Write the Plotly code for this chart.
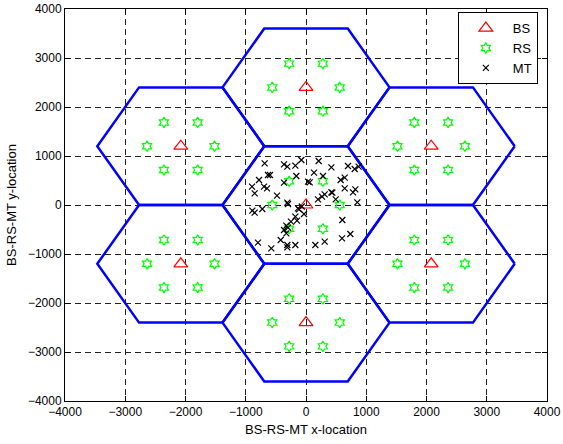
import plotly.graph_objects as go
import math

# Base stations (cell centres)
bs_x = [0, 0, 0, 2078, -2078, 2078, -2078]
bs_y = [0, 2400, -2400, 1200, 1200, -1200, -1200]
cell_radius = 1386

# Relay station offsets relative to each BS
rs_dx = [560, 280, -280, -560, -280, 280]
rs_dy = [0, 485, 485, 0, -485, -485]

# Mobile terminals (centre cell)
mt_x = [-686, -365, -310, -177, -77, 210, 421, 697, 808, 874,
        -631, -598, -780, -161, 133, 282, -896, -697, -647, -365,
        61, 575, 642, -852, -481, 642, 780, 819, 199, 266,
        310, 421, 493, 852, -310, -299, -891, -852, -725, -133,
        -116, -33, -177, -149, -327, -299, -365, -327, 603, -797,
        -420, -576, -310, -310, -177, 155, 310, 598, 736, -70,
        -250, 33, 437]
mt_y = [851, 830, 782, 803, 918, 898, 769, 796, 735, 782,
        612, 612, 510, 592, 660, 592, 374, 374, 340, 456,
        463, 510, 558, 238, 190, 340, 258, 320, 116, 170,
        218, 258, 116, 54, 48, 20, -116, -157, -82, -68,
        -88, -184, -238, -320, -422, -463, -510, -578, -306, -769,
        -714, -884, -816, -864, -816, -816, -748, -680, -592, -30,
        -340, 476, 251]

# Hexagon outlines (flat-topped)
hx, hy = [], []
for cx, cy in zip(bs_x, bs_y):
    for k in range(7):
        a = math.radians(60 * k)
        hx.append(cx + cell_radius * math.cos(a))
        hy.append(cy + cell_radius * math.sin(a))
    hx.append(None)
    hy.append(None)

rs_x, rs_y = [], []
for cx, cy in zip(bs_x, bs_y):
    for dx, dy in zip(rs_dx, rs_dy):
        rs_x.append(cx + dx)
        rs_y.append(cy + dy)

fig = go.Figure()
fig.add_trace(go.Scatter(x=hx, y=hy, mode="lines",
                         line=dict(color="#0000ff", width=2.5),
                         showlegend=False, hoverinfo="skip"))
fig.add_trace(go.Scatter(x=bs_x, y=bs_y, mode="markers", name="BS",
                         marker=dict(symbol="triangle-up-open", size=12,
                                     color="#ff0000", line=dict(width=1.2, color="#ff0000"))))
fig.add_trace(go.Scatter(x=rs_x, y=rs_y, mode="markers", name="RS",
                         marker=dict(symbol="hexagram-open", size=8,
                                     color="#00ff00", line=dict(width=1.2, color="#00ff00"))))
fig.add_trace(go.Scatter(x=mt_x, y=mt_y, mode="markers", name="MT",
                         marker=dict(symbol="x-thin-open", size=6,
                                     color="#000000", line=dict(width=1.2, color="#000000"))))

axis_common = dict(
    showline=True, linecolor="black", linewidth=1, mirror="ticks",
    ticks="inside", ticklen=5, tickcolor="black",
    showgrid=True, gridcolor="#222222", gridwidth=1, griddash="6px,4px",
    zeroline=False, dtick=1000, automargin=False,
    tickfont=dict(family="Liberation Sans, Arial", size=12, color="black"),
)

fig.update_layout(
    width=563, height=444,
    margin=dict(l=65, r=16, t=9, b=43, autoexpand=False),
    paper_bgcolor="white", plot_bgcolor="white",
    font=dict(family="Liberation Sans, Arial", size=12, color="black"),
    xaxis=dict(range=[-4000, 4000], tick0=-4000,
               title=dict(text="BS-RS-MT x-location", font=dict(size=13), standoff=6),
               **axis_common),
    yaxis=dict(range=[-4000, 4000], tick0=-4000,
               title=dict(text="BS-RS-MT y-location", font=dict(size=13), standoff=8),
               **axis_common),
    legend=dict(x=0.981, y=0.992, xanchor="right", yanchor="top",
                bgcolor="white", bordercolor="black", borderwidth=1,
                font=dict(size=13), itemwidth=44,
                tracegroupgap=0),
)

fig.write_html("out.html")
